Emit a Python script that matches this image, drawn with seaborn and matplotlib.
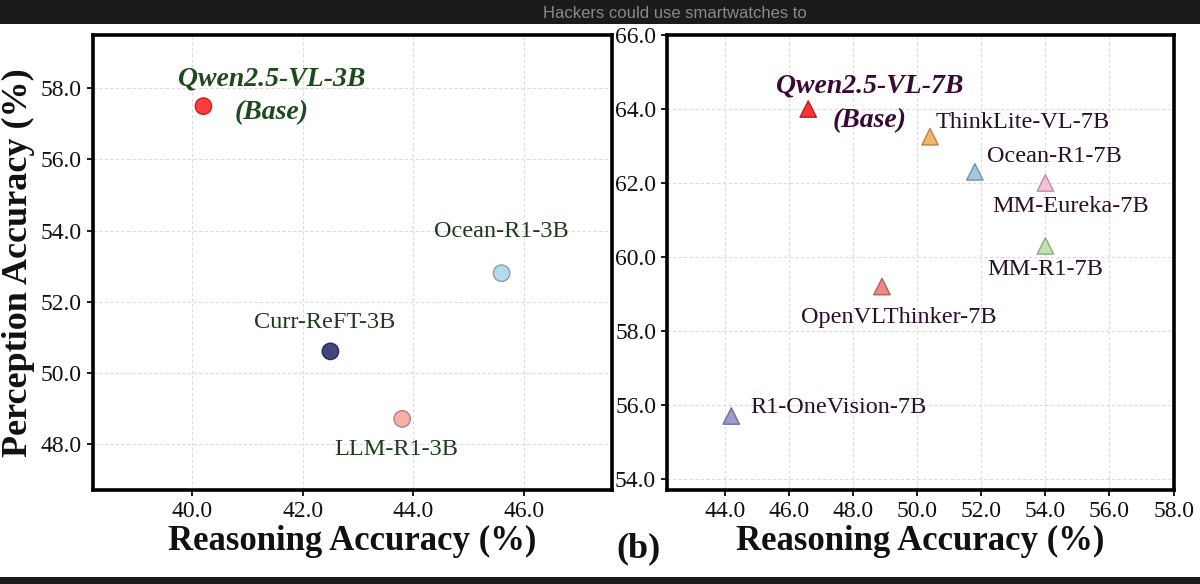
import matplotlib
matplotlib.use("Agg")
import matplotlib.pyplot as plt
import matplotlib.colors as mcolors
from matplotlib.patches import Rectangle
import seaborn as sns
import pandas as pd

# ---------------- data ----------------
models_3b = ["Qwen2.5-VL-3B", "Ocean-R1-3B", "Curr-ReFT-3B", "LLM-R1-3B"]
reason_3b = [40.2, 45.6, 42.5, 43.8]
percep_3b = [57.5, 52.8, 50.6, 48.7]
colors_3b = ["#ff1a1a", "#a9d3ea", "#1f2868", "#f4a39e"]

models_7b = ["Qwen2.5-VL-7B", "ThinkLite-VL-7B", "Ocean-R1-7B", "MM-Eureka-7B",
             "MM-R1-7B", "OpenVLThinker-7B", "R1-OneVision-7B"]
reason_7b = [46.6, 50.4, 51.8, 54.0, 54.0, 48.9, 44.2]
percep_7b = [64.0, 63.25, 62.3, 62.0, 60.3, 59.2, 55.7]
colors_7b = ["#ff1010", "#f2a94e", "#8fc0de", "#f6b8d6", "#b5e0a2", "#ea776d", "#8a8cc4"]

base_tag = "(Base)"

xticks_3b = [40.0, 42.0, 44.0, 46.0]
yticks_3b = [48.0, 50.0, 52.0, 54.0, 56.0, 58.0]
xticks_7b = [44.0, 46.0, 48.0, 50.0, 52.0, 54.0, 56.0, 58.0]
yticks_7b = [54.0, 56.0, 58.0, 60.0, 62.0, 64.0, 66.0]

# label placements (offset in points, horizontal alignment)
# first entry: base model name line; base_offs: "(Base)" line
offs_3b = [(49, 19.5, "center"), (0, 30, "center"), (-4, 21, "center"), (-4, -22, "center")]
base_offs_3b = (49, -4.5)
offs_7b = [(44, 16.5, "center"), (4, 10, "left"), (9, 11, "left"), (18, -17, "center"),
           (0, -17, "center"), (12, -22, "center"), (14, 6, "left")]
base_offs_7b = (44, -8.6)

# ---------------- style ----------------
sns.set_theme(style="whitegrid")
plt.rcParams["font.family"] = ["Liberation Serif", "DejaVu Serif"]

fig = plt.figure(figsize=(12, 5.84), dpi=100)
fig.patch.set_facecolor("white")

ax1 = fig.add_axes([0.0775, 0.161, 0.4325, 0.779])
ax2 = fig.add_axes([0.556, 0.161, 0.422, 0.779])


def darker(c, f=0.7):
    r, g, b = mcolors.to_rgb(c)
    return (r * f, g * f, b * f)


def panel(ax, models, xs, ys, cols, marker, size, offs, base_offs, txt_col,
          base_col, xticks, yticks, xlim, ylim):
    df = pd.DataFrame({"model": models, "reason": xs, "percep": ys})
    sns.scatterplot(data=df, x="reason", y="percep", hue="model",
                    palette=dict(zip(models, cols)), marker=marker, s=size,
                    alpha=0.85, edgecolor=[darker(c) for c in cols],
                    linewidth=1.0, legend=False, ax=ax, zorder=3)
    for i, m in enumerate(models):
        dx, dy, ha = offs[i]
        if i == 0:
            ax.annotate(m, xy=(xs[i], ys[i]), xytext=(dx, dy),
                        textcoords="offset points", ha=ha, va="center",
                        fontsize=20, fontweight="bold", fontstyle="italic",
                        color=base_col)
            ax.annotate(base_tag, xy=(xs[i], ys[i]), xytext=base_offs,
                        textcoords="offset points", ha="center", va="center",
                        fontsize=20, fontweight="bold", fontstyle="italic",
                        color=base_col)
        else:
            ax.annotate(m, xy=(xs[i], ys[i]), xytext=(dx, dy),
                        textcoords="offset points", ha=ha, va="center",
                        fontsize=17.5, color=txt_col)
    ax.set_xlim(*xlim)
    ax.set_ylim(*ylim)
    ax.set_xticks(xticks)
    ax.set_yticks(yticks)
    ax.set_xticklabels([f"{v:.1f}" for v in xticks])
    ax.set_yticklabels([f"{v:.1f}" for v in yticks])
    ax.tick_params(axis="both", labelsize=17, length=4, color="black",
                   labelcolor="#111111", pad=4, left=True, bottom=True)
    ax.grid(True, linestyle=(0, (3, 2)), color="#dcdcdc", linewidth=0.8)
    ax.set_facecolor("white")
    for sp in ax.spines.values():
        sp.set_visible(True)
        sp.set_color("black")
        sp.set_linewidth(2.6)
    ax.set_xlabel("Reasoning Accuracy (%)", fontsize=25, fontweight="bold",
                  color="#111111", labelpad=2)
    ax.set_ylabel("")


panel(ax1, models_3b, reason_3b, percep_3b, colors_3b, "o", 140, offs_3b,
      base_offs_3b, "#1f3a1f", "#1d4a1d", xticks_3b, yticks_3b,
      (38.2, 47.6), (46.7, 59.5))
panel(ax2, models_7b, reason_7b, percep_7b, colors_7b, "^", 140, offs_7b,
      base_offs_7b, "#2a0f2a", "#3a0838", xticks_7b, yticks_7b,
      (42.2, 58.0), (53.7, 66.0))

ax1.set_ylabel("Perception Accuracy (%)", fontsize=26, fontweight="bold",
               color="#111111", labelpad=4)

fig.text(0.532, 0.06, "(b)", fontsize=26, fontweight="bold", ha="center",
         va="center", color="#111111")

# screenshot bands
fig.patches.append(Rectangle((0, 1 - 24 / 584), 1, 24 / 584, transform=fig.transFigure,
                             facecolor="#1b1b1b", edgecolor="none", zorder=-1))
fig.patches.append(Rectangle((0, 0), 1, 7 / 584, transform=fig.transFigure,
                             facecolor="#1b1b1b", edgecolor="none", zorder=-1))
fig.text(0.5625, 1 - 14 / 584, "Hackers could use smartwatches to", fontsize=12,
         family=["Liberation Sans", "DejaVu Sans"], color="#8a8a8a",
         ha="center", va="center")

fig.savefig("out.png", dpi=100, facecolor="white")
